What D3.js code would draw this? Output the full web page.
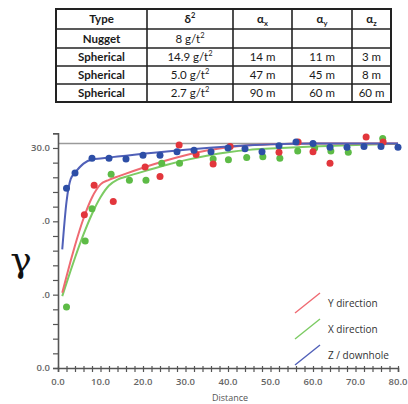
<!DOCTYPE html>
<html><head><meta charset="utf-8">
<script src="https://cdn.jsdelivr.net/npm/d3@7"></script>
<style>body{margin:0;background:#fff;}svg{display:block;}</style>
</head><body>
<script>
// ---- Table data ----
const tableHeader = ["Type", "δ2", "αx", "αy", "αz"];
const tableTypes = ["Nugget", "Spherical", "Spherical", "Spherical"];
const tableSill = ["8 g/t2", "14.9 g/t2", "5.0 g/t2", "2.7 g/t2"];
const tableAx = ["", "14 m", "47 m", "90 m"];
const tableAy = ["", "11 m", "45 m", "60 m"];
const tableAz = ["", "3 m", "8 m", "60 m"];

// ---- Chart data ----
const xTickLabels = ["0.0","10.0","20.0","30.0","40.0","50.0","60.0","70.0","80.0"];
const yTickLabels = ["0.0", ".0", ".0", "30.0"];
const sillValue = 30.6;

// experimental points
const yDirLag = [6.2, 8.5, 13, 20.5, 24, 28.5, 32.5, 36.5, 40.5, 52, 56.5, 60, 64, 72.5, 76.5];
const yDirGamma = [20.9, 24.9, 22.7, 27.4, 26.1, 30.4, 29.1, 27.8, 30.2, 29.4, 30.8, 29.5, 27.9, 31.5, 30.8];
const xDirLag = [2, 6.4, 8, 12.5, 16.8, 20.7, 24.4, 28.6, 36.5, 40.1, 44.4, 48.2, 52.2, 56.4, 60.4, 64.2, 68.3, 76.4];
const xDirGamma = [8.3, 17.3, 21.7, 26.4, 25.6, 25.6, 27.9, 27.9, 28.5, 28.4, 28.7, 28.8, 28.6, 29.6, 30.0, 29.6, 29.4, 31.3];
const zDirLag = [2, 4, 8, 12, 16, 20, 24, 28, 32, 36, 40, 44, 48, 52, 56, 60, 64, 68, 72, 76, 80];
const zDirGamma = [24.5, 26.6, 28.6, 28.6, 28.5, 29.0, 29.0, 29.5, 29.7, 29.5, 30.0, 29.9, 29.5, 30.3, 30.8, 30.6, 30.1, 30.1, 30.2, 30.2, 30.1];

// model curves
const modelLag = [1, 2, 3, 4, 6, 8, 10, 12, 14, 16, 20, 25, 30, 35, 40, 45, 50, 55, 60, 70, 80];
const yModel = [10.26, 12.49, 14.65, 16.70, 20.38, 23.25, 25.03, 25.65, 26.09, 26.51, 27.31, 28.23, 29.02, 29.65, 30.11, 30.37, 30.49, 30.57, 30.6, 30.6, 30.6];
const xModel = [9.80, 11.58, 13.33, 15.03, 18.21, 21.00, 23.27, 24.88, 25.69, 26.07, 26.78, 27.61, 28.34, 28.95, 29.42, 29.74, 29.92, 30.07, 30.20, 30.41, 30.55];
const zModel = [16.17, 22.66, 25.78, 26.61, 27.87, 28.44, 28.57, 28.70, 28.83, 28.95, 29.20, 29.49, 29.76, 29.99, 30.20, 30.37, 30.49, 30.57, 30.6, 30.6, 30.6];

const legendNames = ["Y direction", "X direction", "Z / downhole"];

// ---- drawing ----
const W = 408, H = 404;
const svg = d3.select("body").append("svg").attr("width", W).attr("height", H);

// Table
const colEdges = [56, 147, 233, 292, 352, 391];
const rowEdges = [9, 29, 48, 66, 84, 102];
const tg = svg.append("g");
const tfont = "Lato, 'Open Sans', sans-serif";
tg.append("rect").attr("x", colEdges[0]).attr("y", rowEdges[0])
  .attr("width", colEdges[5]-colEdges[0]).attr("height", rowEdges[5]-rowEdges[0])
  .attr("fill", "#fff").attr("stroke", "#222").attr("stroke-width", 2);
colEdges.slice(1, -1).forEach(x => tg.append("line").attr("x1", x).attr("x2", x)
  .attr("y1", rowEdges[0]).attr("y2", rowEdges[5]).attr("stroke", "#222").attr("stroke-width", 1.6));
rowEdges.slice(1, -1).forEach(y => tg.append("line").attr("y1", y).attr("y2", y)
  .attr("x1", colEdges[0]).attr("x2", colEdges[5]).attr("stroke", "#222").attr("stroke-width", 1.6));

function cell(text, ci, ri, bold) {
  const cx = (colEdges[ci] + colEdges[ci+1]) / 2;
  const cy = (rowEdges[ri] + rowEdges[ri+1]) / 2 + 4;
  const t = tg.append("text").attr("x", cx).attr("y", cy).attr("text-anchor", "middle")
    .attr("font-family", tfont).attr("font-size", 11.5).attr("font-weight", bold ? 700 : 400)
    .attr("fill", "#1a1a1a");
  if (/^α[xyz]$/.test(text)) {
    t.append("tspan").text("α");
    t.append("tspan").attr("font-size", 7.5).attr("dy", 3).text(text[1]);
  } else if (/2$/.test(text)) {
    t.append("tspan").text(text.slice(0, -1));
    t.append("tspan").attr("font-size", 7.5).attr("dy", -5).text("2");
  } else {
    t.text(text);
  }
}
tableHeader.forEach((h, i) => cell(h, i, 0, true));
tableTypes.forEach((v, r) => {
  cell(v, 0, r+1, true);
  cell(tableSill[r], 1, r+1, false);
  if (tableAx[r]) cell(tableAx[r], 2, r+1, false);
  if (tableAy[r]) cell(tableAy[r], 3, r+1, false);
  if (tableAz[r]) cell(tableAz[r], 4, r+1, false);
});

// Scales
const x = d3.scaleLinear().domain([0, 80]).range([58, 398]);
const y = d3.scaleLinear().domain([0, 32]).range([368, 133.3]);
const axisColor = "#555";
const lfont = "'Open Sans', Lato, sans-serif";

// sill line
svg.append("line").attr("x1", x(0)).attr("x2", x(80)).attr("y1", y(sillValue)).attr("y2", y(sillValue))
  .attr("stroke", "#9a9a9a").attr("stroke-width", 1.5);

// Y axis
const yAxis = d3.axisLeft(y).tickValues(d3.range(0, 33, 2)).tickSize(5).tickFormat("");
const gy = svg.append("g").attr("transform", `translate(${x(0)},0)`).call(yAxis);
gy.select(".domain").attr("stroke", axisColor).attr("stroke-width", 1.6);
gy.selectAll(".tick line").attr("stroke", axisColor).attr("stroke-width", 1.2);
[0, 10, 20, 30].forEach((v, i) => {
  svg.append("text").attr("x", 50).attr("y", y(v) + 3).attr("text-anchor", "end")
    .attr("font-family", lfont).attr("font-size", 9.5).attr("font-weight", 600).attr("fill", "#666")
    .text(yTickLabels[i]);
});

// X axis
const xAxis = d3.axisBottom(x).tickValues(d3.range(0, 81, 2)).tickSize(4).tickFormat("");
const gx = svg.append("g").attr("transform", `translate(0,${y(0)})`).call(xAxis);
gx.select(".domain").attr("stroke", axisColor).attr("stroke-width", 1.6);
gx.selectAll(".tick line").attr("stroke", axisColor).attr("stroke-width", 1.2).attr("y1", -2);
xTickLabels.forEach((lab, i) => {
  svg.append("text").attr("x", x(i * 10)).attr("y", 385).attr("text-anchor", "middle")
    .attr("font-family", lfont).attr("font-size", 9.5).attr("font-weight", 600).attr("fill", "#666")
    .text(lab);
});
svg.append("text").attr("x", 230).attr("y", 401).attr("text-anchor", "middle")
  .attr("font-family", lfont).attr("font-size", 9).attr("fill", "#555").text("Distance");

// gamma label
svg.append("text").attr("x", 21).attr("y", 272).attr("text-anchor", "middle")
  .attr("font-family", "'DejaVu Serif', serif").attr("font-size", 36)
  .attr("fill", "#111").text("γ");

// series
const series = [
  {name: legendNames[0], lag: yDirLag, g: yDirGamma, model: yModel, pc: "#e2363c", lc: "#ef6a72"},
  {name: legendNames[1], lag: xDirLag, g: xDirGamma, model: xModel, pc: "#5dbb46", lc: "#7ccb63"},
  {name: legendNames[2], lag: zDirLag, g: zDirGamma, model: zModel, pc: "#2d4ea6", lc: "#5060b8"}
];
const line = d3.line().x(d => x(d[0])).y(d => y(d[1])).curve(d3.curveMonotoneX);
[series[1], series[0], series[2]].forEach(s => {
  svg.append("path").datum(modelLag.map((h, i) => [h, s.model[i]]))
    .attr("d", line).attr("fill", "none").attr("stroke", s.lc).attr("stroke-width", 2);
});
[series[1], series[0], series[2]].forEach(s => {
  svg.append("g").selectAll("circle").data(s.lag.map((h, i) => [h, s.g[i]])).join("circle")
    .attr("cx", d => x(d[0])).attr("cy", d => y(d[1])).attr("r", 3.5).attr("fill", s.pc);
});

// legend
const lg = svg.append("g");
lg.append("rect").attr("x", 290).attr("y", 286).attr("width", 112).attr("height", 80).attr("fill", "#fff").attr("opacity", 0.85);
series.forEach((s, i) => {
  const by = 313 + i * 26;
  lg.append("line").attr("x1", 295).attr("y1", by).attr("x2", 320).attr("y2", by - 20)
    .attr("stroke", s.lc).attr("stroke-width", 1.5);
  lg.append("text").attr("x", 328).attr("y", by - 6).attr("font-family", lfont)
    .attr("font-size", 10).attr("fill", "#333").text(s.name);
});
</script>
</body></html>
